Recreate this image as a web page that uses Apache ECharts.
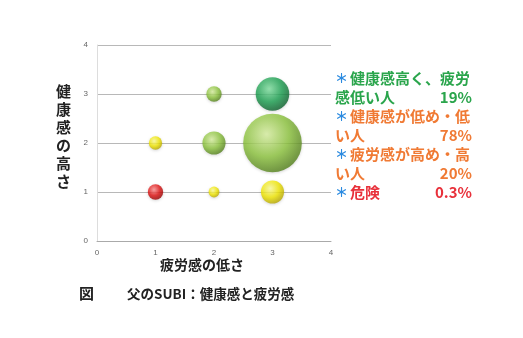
<!DOCTYPE html>
<html><head><meta charset="utf-8">
<script src="https://cdn.jsdelivr.net/npm/echarts@6/dist/echarts.min.js"></script>
<style>html,body{margin:0;padding:0;background:#fff}#c{width:523px;height:338px}</style>
</head><body><div id="c"></div>
<script>
var xTicks = [0,1,2,3,4];
var yTicks = [0,1,2,3,4];
// bubbles: [fatigue-low score, health score, relative count, group]
var bubbleX = [1, 2, 3, 1, 2, 3, 2, 3];
var bubbleY = [1, 1, 1, 2, 2, 2, 3, 3];
var bubbleCount = [4, 2, 9, 3, 9, 58, 4, 19];
var bubbleGroup = ['red','yellow','yellow','yellow','lgreen','lgreen','lgreen','dgreen'];
var legendLines = [
  {text:'健康感高く、疲労', cont:'感低い人', pct:'19%', color:'#2aa54c'},
  {text:'健康感が低め・低', cont:'い人', pct:'78%', color:'#f07a34'},
  {text:'疲労感が高め・高', cont:'い人', pct:'20%', color:'#f07a34'},
  {text:'危険', cont:null, pct:'0.3%', color:'#e8303a'}
];
var xTitle = '疲労感の低さ';
var yTitle = '健康感の高さ';
var captionFig = '図';
var caption = '父のSUBI：健康感と疲労感';

var palette = {
  red: ['#ff9090', '#e01010', '#900000'],
  yellow: ['#ffff9a', '#f2e800', '#b0a000'],
  lgreen: ['#d8f0a0', '#8cc43c', '#4e7a18'],
  dgreen: ['#80e0a0', '#1aa050', '#0a5a28']
};
function grad(g){
  var p = palette[g];
  return {type:'radial', x:0.4, y:0.35, r:0.7, colorStops:[
    {offset:0, color:p[0]},{offset:0.55, color:p[1]},{offset:1, color:p[2]}]};
}
var data = bubbleX.map(function(x,i){
  return {value:[x, bubbleY[i], bubbleCount[i]], itemStyle:{color:grad(bubbleGroup[i])}};
});

var FONT = '"Noto Sans CJK JP", sans-serif';
var graphics = [];
var yT = yTitle.split('');
yT.forEach(function(ch,i){
  graphics.push({type:'text', left:56, top:84+i*18, style:{text:ch, font:'bold 15px '+FONT, fill:'#222'}});
});
var lineY = 71, lh = 19;
var rows = [];
legendLines.forEach(function(l){
  rows.push({star:true, text:l.text, color:l.color, pct:l.cont===null?l.pct:null});
  if(l.cont!==null) rows.push({star:false, text:l.cont, color:l.color, pct:l.pct});
});
rows.forEach(function(r,i){
  var y = lineY + i*lh;
  graphics.push({type:'text', left:335, top:y, style:{
    text:(r.star?'{s|＊}':'')+'{t|'+r.text+'}',
    rich:{s:{fill:'#2a8ae0', font:'bold 13px '+FONT, width:15}, t:{fill:r.color, font:'bold 15px '+FONT}}
  }});
  if(r.pct){
    graphics.push({type:'text', right:51, top:y, style:{text:r.pct, fill:r.color, font:'bold 15px '+FONT}});
  }
});
graphics.push({type:'text', left:160, top:258, style:{text:xTitle, font:'bold 14px '+FONT, fill:'#222'}});
graphics.push({type:'text', left:79, top:286, style:{text:captionFig, font:'bold 15px '+FONT, fill:'#222'}});
graphics.push({type:'text', left:127, top:287, style:{text:caption, font:'bold 13.5px '+FONT, fill:'#222'}});

var chart = echarts.init(document.getElementById('c'));
chart.setOption({
  backgroundColor:'#fff',
  animation:false,
  grid:{left:97, right:192, top:45, bottom:97},
  xAxis:{type:'value', min:xTicks[0], max:xTicks[xTicks.length-1], interval:1,
    axisLine:{show:true, lineStyle:{color:'#aaa', width:1}}, axisTick:{show:false},
    axisLabel:{color:'#666', fontSize:8, margin:8, fontFamily:'Arial'},
    splitLine:{show:false}},
  yAxis:{type:'value', min:yTicks[0], max:yTicks[yTicks.length-1], interval:1,
    axisLine:{show:true, lineStyle:{color:'#ddd', width:1}}, axisTick:{show:false},
    axisLabel:{color:'#666', fontSize:8, margin:9, fontFamily:'Arial'},
    splitLine:{show:true, lineStyle:{color:'#b8b8b8', width:1}}},
  series:[{type:'scatter', data:data,
    symbolSize:function(v){return Math.sqrt(v[2])*7.7;},
    itemStyle:{shadowBlur:3, shadowColor:'rgba(0,0,0,0.2)', shadowOffsetY:1}
  }],
  graphic:graphics
});
</script></body></html>
